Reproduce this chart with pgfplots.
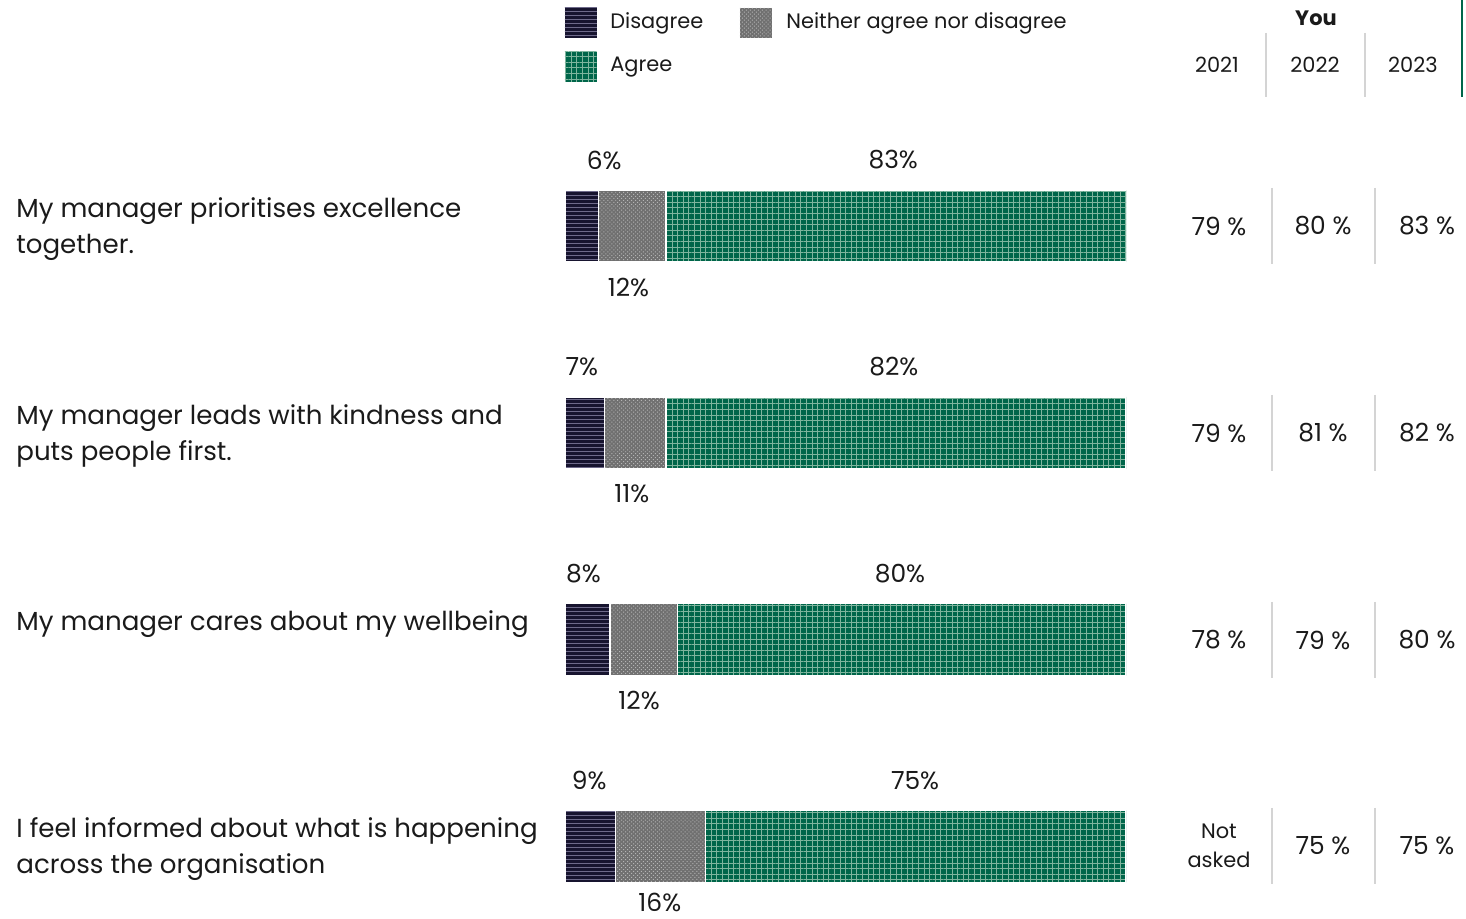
\documentclass[border=0pt]{standalone}
\usepackage{pgfplots}
\pgfplotsset{compat=1.18}
\usetikzlibrary{patterns.meta}
\usepackage{fontspec}
\setmainfont{Poppins}

\definecolor{navy}{HTML}{17142F}
\definecolor{navyline}{HTML}{6E6A8A}
\definecolor{midgray}{HTML}{707070}
\definecolor{graydot}{HTML}{B4B4B4}
\definecolor{vicgreen}{HTML}{00664A}
\definecolor{greenline}{HTML}{7FB59E}
\definecolor{sepgray}{HTML}{D4D4D4}
\definecolor{txt}{HTML}{1A1A1A}

\tikzset{
  disag/.style={fill=navy, postaction={pattern={Lines[angle=0,distance=2bp,line width=0.35bp]}, pattern color=navyline}},
  neith/.style={fill=midgray, postaction={pattern={Dots[angle=45,distance=1.4bp,radius=0.35bp]}, pattern color=graydot}},
  agr/.style={fill=vicgreen, postaction={pattern={Hatch[angle=0,distance=2.8bp,line width=0.35bp]}, pattern color=greenline}},
  lab/.style={font=\fontsize{12.5}{14}\selectfont, text=txt, inner sep=0},
  rowlab/.style={font=\fontsize{13.1}{18}\selectfont, text=txt, inner sep=0, align=left, anchor=north west},
  small/.style={font=\fontsize{10.5}{14}\selectfont, text=txt, inner sep=0},
}

\begin{document}
\begin{tikzpicture}
\useasboundingbox (0,0) rectangle (733bp,-459.5bp);

\begin{axis}[
  at={(282.5bp,-61.3bp)}, anchor=north west,
  scale only axis, width=280.5bp, height=392.95bp,
  xbar stacked, bar width=36bp,
  xmin=0, xmax=100, ymin=-0.5, ymax=3.3, y dir=reverse,
  hide axis, clip mode=individual,
  every axis plot/.append style={draw=white, line width=0.7bp},
]
% Disagree / Neither / Agree shares per statement
\addplot[disag] coordinates {(6,0) (7,1) (8,2) (9,3)};
\addplot[neith] coordinates {(12,0) (11,1) (12,2) (16,3)};
\addplot[agr]   coordinates {(83,0) (82,1) (80,2) (75,3)};

% value labels: disagree and agree above, neither below
\node[lab, yshift=33bp]    at (axis cs:7,0)    {6\%};
\node[lab, yshift=-30.5bp] at (axis cs:11.3,0) {12\%};
\node[lab, yshift=33bp]    at (axis cs:58.5,0) {83\%};
\node[lab, yshift=33bp]    at (axis cs:3,1)    {7\%};
\node[lab, yshift=-30.5bp] at (axis cs:11.9,1) {11\%};
\node[lab, yshift=33bp]    at (axis cs:58.6,1) {82\%};
\node[lab, yshift=33bp]    at (axis cs:3.3,2)  {8\%};
\node[lab, yshift=-30.5bp] at (axis cs:13.2,2) {12\%};
\node[lab, yshift=33bp]    at (axis cs:59.7,2) {80\%};
\node[lab, yshift=33bp]    at (axis cs:4.3,3)  {9\%};
\node[lab, yshift=-28bp]   at (axis cs:16.9,3) {16\%};
\node[lab, yshift=33bp]    at (axis cs:62.4,3) {75\%};
\end{axis}

\begin{scope}[x=0.5bp, y=-0.5bp]
% legend
\path[disag] (565,8) rectangle (597,38);
\node[small, anchor=west] at (610,23) {Disagree};
\path[neith] (740,8) rectangle (772,38);
\node[small, anchor=west] at (786,23) {Neither agree nor disagree};
\path[agr] (565,52) rectangle (597,82);
\node[small, anchor=west] at (610,67) {Agree};

% statements
\node[rowlab] at (16,197) {My manager prioritises excellence\\together.};
\node[rowlab] at (16,404) {My manager leads with kindness and\\puts people first.};
\node[rowlab] at (16,610) {My manager cares about my wellbeing};
\node[rowlab] at (16,817) {I feel informed about what is happening\\across the organisation};

% header of the trend table
\node[small, font=\fontsize{10.5}{14}\bfseries] at (1316,18) {You};
\node[small] at (1217,65) {2021};
\node[small] at (1315,65) {2022};
\node[small] at (1413,65) {2023};
\draw[sepgray, line width=0.6bp] (1266,33) -- (1266,97);
\draw[sepgray, line width=0.6bp] (1365,33) -- (1365,97);
\draw[vicgreen, line width=1bp] (1462,0) -- (1462,97);

% trend table rows
\foreach \yc/\a/\b/\c in {226/79 \%/80 \%/83 \%, 433/79 \%/81 \%/82 \%, 640/78 \%/79 \%/80 \%}{
  \node[lab] at (1219,\yc) {\a};
  \node[lab] at (1323,\yc) {\b};
  \node[lab] at (1427,\yc) {\c};
  \draw[sepgray, line width=0.6bp] (1272,\yc-38) -- (1272,\yc+38);
  \draw[sepgray, line width=0.6bp] (1375,\yc-38) -- (1375,\yc+38);
}
\node[small, align=center, font=\fontsize{10.5}{14.5}\selectfont] at (1219,846) {Not\\asked};
\node[lab] at (1323,846) {75 \%};
\node[lab] at (1427,846) {75 \%};
\draw[sepgray, line width=0.6bp] (1272,808) -- (1272,884);
\draw[sepgray, line width=0.6bp] (1375,808) -- (1375,884);
\end{scope}
\end{tikzpicture}
\end{document}
